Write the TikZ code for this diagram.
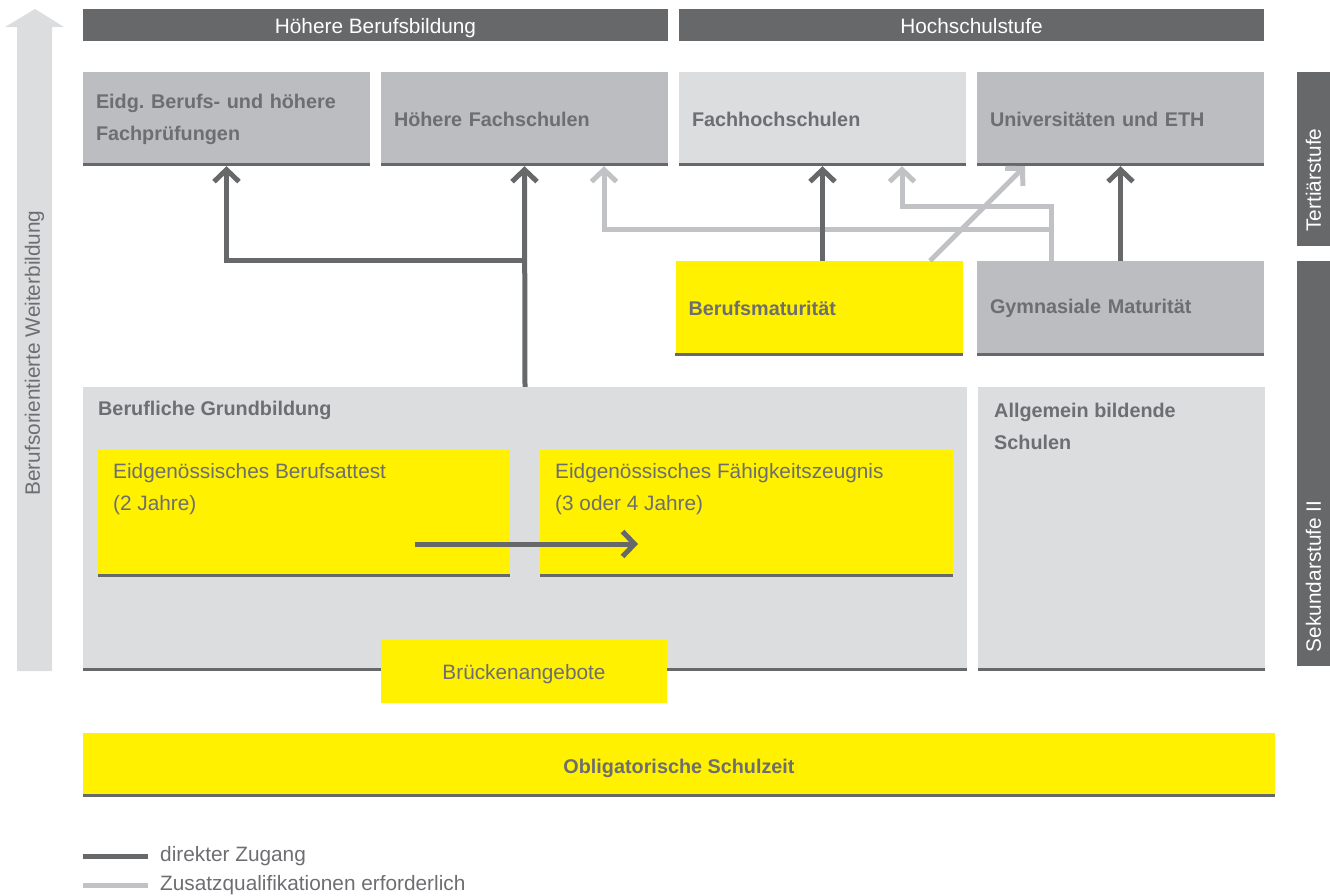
\documentclass[tikz,border=0pt]{standalone}
\usepackage{fontspec}
\setmainfont{Liberation Sans}
\usetikzlibrary{arrows.meta}

\definecolor{bbdark}{HTML}{67686A}
\definecolor{bbtext}{HTML}{6D6E71}
\definecolor{bbmid}{HTML}{BCBDC0}
\definecolor{bblight}{HTML}{DCDDDF}
\definecolor{bbline}{HTML}{C1C2C5}
\definecolor{bbyellow}{HTML}{FFF100}

\newcommand\bbsize{\fontsize{20.8pt}{32pt}\selectfont}
\newcommand\bbbold{\fontsize{19.8pt}{32pt}\selectfont\bfseries}
\frenchspacing

\tikzset{
    card/.style={inner xsep=13pt, inner ysep=0pt, minimum height=94pt,
        text width=261pt, align=left, font=\bbbold, text=bbtext},
    panel/.style={inner sep=0pt, text=bbtext, font=\bbsize,
        text height=17pt, text depth=0pt},
    headbar/.style={panel, fill=bbdark, text=white, minimum width=585pt,
        minimum height=32pt},
    sidebar/.style={inner sep=0pt, fill=bbdark, minimum width=33pt},
    lbl/.style={inner sep=0pt, anchor=west, align=left, text=bbtext,
        font=\bbsize},
    bottomline/.style={draw=bbdark, line width=3pt},
    direct/.style={draw=bbdark, line width=5pt,
        -{Straight Barb[sharp, length=12pt, width=25pt]}},
    extra/.style={direct, draw=bbline},
}

\begin{document}
\begin{tikzpicture}[x=1pt, y=-1pt]
    \useasboundingbox (0,0) rectangle (1330,895);

    \begin{scope} % Left arrow
        \fill[bblight] (17,671) -- (17,27) -- (5,27) -- (35,9) --
            (64,27) -- (52,27) -- (52,671) -- cycle;
        \node[lbl, anchor=center, rotate=90] (bow) at (34.5,353)
            {Berufsorientierte Weiterbildung};
    \end{scope}

    \begin{scope} % Tertiary level
        \node[headbar] (hbb) at (375.5,25) {Höhere Berufsbildung};
        \node[headbar] (hss) at (971.5,25) {Hochschulstufe};
        \node[card, fill=bbmid] (efp) at (226.5,119)
            {Eidg. Berufs- und höhere\\Fachprüfungen};
        \node[card, fill=bbmid] (hfs) at (524.5,119) {Höhere Fachschulen};
        \node[card, fill=bblight] (fh) at (822.5,119) {Fachhochschulen};
        \node[card, fill=bbmid] (uni) at (1120.5,119) {Universitäten und ETH};
    \end{scope}

    \begin{scope} % Secondary level
        \node[card, fill=bbyellow, minimum height=95pt] (bm) at (819,308.5)
            {Berufsmaturität};
        \node[card, fill=bbmid, minimum height=95pt] (gm) at (1120.5,308.5)
            {Gymnasiale Maturität};
        \node[panel, fill=bblight, minimum width=884pt, minimum height=284pt]
            (bg) at (525,529) {};
        \node[panel, fill=bblight, minimum width=287pt, minimum height=284pt]
            (abs) at (1121.5,529) {};
        \node[panel, fill=bbyellow, minimum width=412pt, minimum height=127pt]
            (eba) at (304,513.5) {};
        \node[panel, fill=bbyellow, minimum width=413pt, minimum height=127pt]
            (efz) at (746.5,513.5) {};
        \node[lbl, font=\bbbold] (bg-t) at (98,410)
            {Berufliche Grundbildung};
        \node[lbl, font=\bbbold] (abs-t) at (994,426)
            {Allgemein bildende\\Schulen};
        \node[lbl] (eba-t) at (113,489) {Eidgenössisches Berufsattest\\(2 Jahre)};
        \node[lbl] (efz-t) at (555,489)
            {Eidgenössisches Fähigkeitszeugnis\\(3 oder 4 Jahre)};
        \node[panel, fill=bbyellow, minimum width=1192pt, minimum height=64pt,
            font=\bbbold] (obl) at (679,765) {Obligatorische Schulzeit};
    \end{scope}

    % bottom edges
    \foreach \n in {efp,hfs,fh,uni,bm,gm,bg,abs,eba,efz,obl}
        \draw[bottomline] ([yshift=1.5pt]\n.south west) --
            ([yshift=1.5pt]\n.south east);

    \node[panel, fill=bbyellow, minimum width=286pt, minimum height=63pt]
        (bru) at (524,671) {Brückenangebote};

    \begin{scope} % Side bars
        \node[sidebar, minimum height=174pt] (tert) at (1313.5,158.5) {};
        \node[sidebar, minimum height=405pt] (sek) at (1313.5,463.5) {};
        \node[lbl, rotate=90, text=white] (tert-t) at ([yshift=14pt]tert.south)
            {Tertiärstufe};
        \node[lbl, rotate=90, text=white] (sek-t) at ([yshift=14pt]sek.south)
            {Sekundarstufe II};
    \end{scope}

    \begin{scope} % Access with extra qualification
        \coordinate (gmout) at ([xshift=-69pt]gm.north);
        \draw[extra] (gmout) -- (gmout |- 0,206) -| ([xshift=79.5pt]fh.south);
        \draw[extra] (gmout |- 0,229) -| ([xshift=79.5pt]hfs.south);
        \draw[extra] ([xshift=111pt]bm.north) -- ([xshift=-95.5pt]uni.south);
    \end{scope}

    \begin{scope} % Direct access
        \coordinate (split) at (bg.north |- 0,260);
        \draw[direct] (bg.north) -- (hfs.south);
        \draw[direct] (split) -| (efp.south);
        \draw[direct] (fh.south |- bm.north) -- (fh.south);
        \draw[direct] (gm.north) -- (uni.south);
        \coordinate (ebaout) at (415,544);
        \coordinate (efzin) at (638,544);
        \draw[direct] (ebaout) -- (efzin);
    \end{scope}

    \begin{scope} % Legend
        \draw[bbdark, line width=5pt] (83,856) -- (148,856);
        \node[lbl] (lg-dir) at (160,856) {direkter Zugang};
        \draw[bbline, line width=5pt] (83,885) -- (148,885);
        \node[lbl] (lg-add) at (160,885) {Zusatzqualifikationen erforderlich};
    \end{scope}
\end{tikzpicture}
\end{document}
